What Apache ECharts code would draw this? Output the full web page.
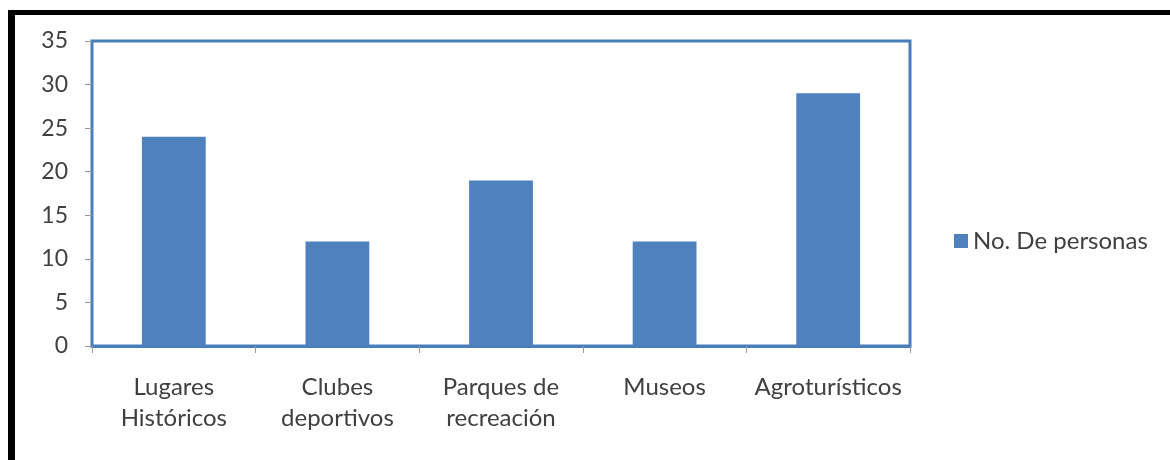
<!DOCTYPE html>
<html>
<head>
<meta charset="utf-8">
<script src="https://cdn.jsdelivr.net/npm/echarts@6/dist/echarts.min.js"></script>
<style>
  html,body{margin:0;padding:0;background:#fff;}
  #chart{position:absolute;left:0;top:0;width:1170px;height:460px;}
  #frame{position:absolute;left:8px;top:10px;width:1155px;height:460px;border-left:7px solid #000;border-top:5px solid #000;border-right:1px solid #e6e6e6;pointer-events:none;}
</style>
</head>
<body>
<div id="chart"></div>
<div id="frame"></div>
<script>
// categorias y valores
var categorias = ['Lugares\nHistóricos', 'Clubes\ndeportivos', 'Parques de\nrecreación', 'Museos', 'Agroturísticos'];
var personas = [24, 12, 19, 12, 29];
var serieNombre = 'No. De personas';

var myChart = echarts.init(document.getElementById('chart'), null, {width:1170, height:460});
var textColor = '#404040';
var fuente = 'Lato, "Open Sans", sans-serif';

var option = {
    animation: false,
    textStyle: {fontFamily: fuente},
    grid: {
        left: 92,
        top: 41,
        right: 260,
        bottom: 114,
        show: true,
        borderColor: '#4A7EBB',
        borderWidth: 3,
        backgroundColor: '#fff'
    },
    legend: {
        orient: 'vertical',
        left: 949,
        top: 224,
        itemWidth: 14,
        itemHeight: 14,
        itemGap: 6,
        icon: 'rect',
        textStyle: {color: textColor, fontSize: 24, fontFamily: fuente},
        data: [serieNombre]
    },
    xAxis: {
        type: 'category',
        data: categorias,
        boundaryGap: true,
        axisLine: {show: true, lineStyle: {color: '#4A7EBB', width: 3}},
        axisTick: {show: true, length: 7, lineStyle: {color: '#999'}},
        axisLabel: {
            color: textColor,
            fontSize: 24,
            lineHeight: 31,
            margin: 26,
            interval: 0
        }
    },
    yAxis: {
        type: 'value',
        min: 0,
        max: 35,
        interval: 5,
        axisLine: {show: false},
        axisTick: {show: true, length: 7, lineStyle: {color: '#999'}},
        splitLine: {show: false},
        axisLabel: {color: textColor, fontSize: 23, margin: 24}
    },
    series: [{
        name: serieNombre,
        type: 'bar',
        data: personas,
        barWidth: '39%',
        itemStyle: {color: '#4F81BD'}
    }]
};
myChart.setOption(option, true);
</script>
</body>
</html>
